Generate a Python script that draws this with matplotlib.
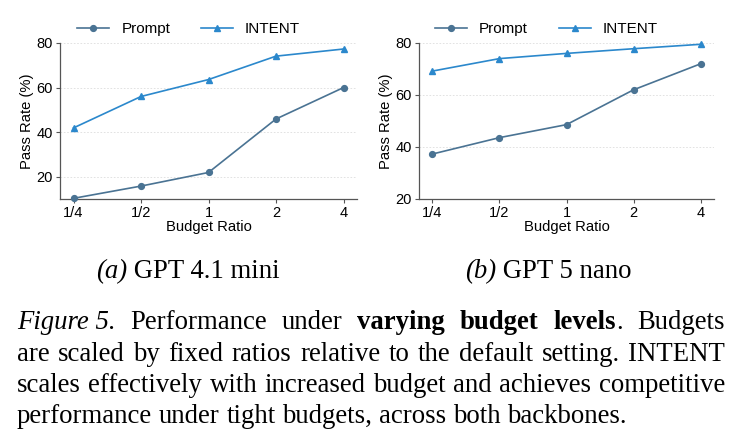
import matplotlib
matplotlib.use("Agg")
import matplotlib.pyplot as plt

ratios = ["1/4", "1/2", "1", "2", "4"]
prompt_a = [10.3, 15.8, 21.9, 45.9, 60.0]
intent_a = [41.9, 56.0, 63.6, 74.1, 77.3]
prompt_b = [37.3, 43.6, 48.6, 62.0, 72.0]
intent_b = [69.2, 74.0, 76.0, 77.8, 79.5]
yticks_a = [20, 40, 60, 80]
yticks_b = [20, 40, 60, 80]
subcaps = [("(a)", " GPT 4.1 mini"), ("(b)", " GPT 5 nano")]

C_PROMPT = "#4a7393"
C_INTENT = "#2b88cc"
SANS = ["Liberation Sans", "DejaVu Sans"]
SERIF = ["Liberation Serif", "DejaVu Serif"]

W, H = 736, 441
fig = plt.figure(figsize=(W / 100, H / 100), dpi=100)

def px_axes(x0, x1, y0, y1):
    return fig.add_axes([x0 / W, 1 - y1 / H, (x1 - x0) / W, (y1 - y0) / H])

axA = px_axes(60, 357, 43, 199)
axB = px_axes(419, 714, 43, 199)

def draw(ax, p, i, ylim, yticks, legx):
    x = list(range(len(ratios)))
    ax.plot(x, p, color=C_PROMPT, marker="o", markersize=4.2, lw=1.2, label="Prompt", clip_on=False, zorder=3)
    ax.plot(x, i, color=C_INTENT, marker="^", markersize=4.2, lw=1.2, label="INTENT", clip_on=False, zorder=3)
    ax.set_xlim(-0.2, 4.2)
    ax.set_ylim(*ylim)
    ax.set_yticks(yticks)
    ax.set_xticks(x)
    ax.set_xticklabels(ratios)
    for s in ["top", "right"]:
        ax.spines[s].set_visible(False)
    for s in ["left", "bottom"]:
        ax.spines[s].set_color("#555555")
        ax.spines[s].set_linewidth(0.9)
    ax.tick_params(length=3, width=0.8, color="#555555", labelsize=10.5, pad=2)
    for lab in ax.get_xticklabels() + ax.get_yticklabels():
        lab.set_family(SANS)
    ax.grid(axis="y", color="#dddddd", ls=(0, (2, 2)), lw=0.6)
    ax.set_axisbelow(True)
    ax.set_xlabel("Budget Ratio", fontsize=10.6, family=SANS, labelpad=0)
    ax.set_ylabel("Pass Rate (%)", fontsize=10.6, family=SANS, labelpad=2)
    ax.legend(loc="center", bbox_to_anchor=(legx, 1.09), ncol=2, frameon=False,
              prop={"family": SANS, "size": 11}, handlelength=2.1, columnspacing=2.0,
              handletextpad=0.8, borderaxespad=0)

draw(axA, prompt_a, intent_a, (10, 80), yticks_a, 0.433)
draw(axB, prompt_b, intent_b, (20, 80), yticks_b, 0.432)

SUB_FS = 19.3
CAP_FS = 19.3
r = fig.canvas.get_renderer()
# sub captions
for (it, rest), cx in zip(subcaps, [188, 548]):
    t1 = fig.text(0, 0, it, fontsize=SUB_FS, family=SERIF, style="italic", va="baseline")
    t2 = fig.text(0, 0, rest, fontsize=SUB_FS, family=SERIF, va="baseline")
    fig.canvas.draw()
    w1 = t1.get_window_extent(r).width
    w2 = t2.get_window_extent(r).width
    x0 = cx - (w1 + w2) / 2
    y = 1 - 278 / H
    t1.set_position((x0 / W, y))
    t2.set_position(((x0 + w1) / W, y))

# caption, justified
lines = [
    [("Figure 5.", "italic"), ("Performance", "n"), ("under", "n"),
     ("varying", "bold"), ("budget", "bold"), ("levels", "bold+."), ("Budgets", "n")],
    [(w, "n") for w in "are scaled by fixed ratios relative to the default setting. INTENT".split()],
    [(w, "n") for w in "scales effectively with increased budget and achieves competitive".split()],
    [(w, "n") for w in "performance under tight budgets, across both backbones.".split()],
]
ys = [329, 361, 392, 423]
XL, XR = 17, 725
for li, (words, yc) in enumerate(zip(lines, ys)):
    arts = []
    for w, st in words:
        if st == "bold+.":
            a = fig.text(0, 0, w, fontsize=CAP_FS, family=SERIF, weight="bold", va="baseline")
            b = fig.text(0, 0, ".", fontsize=CAP_FS, family=SERIF, va="baseline")
            arts.append([a, b])
        else:
            kw = {}
            if st == "italic":
                kw["style"] = "italic"
            if st == "bold":
                kw["weight"] = "bold"
            a = fig.text(0, 0, w, fontsize=CAP_FS, family=SERIF, va="baseline", **kw)
            arts.append([a])
    fig.canvas.draw()
    widths = [sum(t.get_window_extent(r).width for t in g) for g in arts]
    total = sum(widths)
    n = len(arts)
    if li < len(lines) - 1:
        gap = (XR - XL - total) / (n - 1)
    else:
        gap = 0.25 * CAP_FS * 100 / 72
    x = XL
    for g, wd in zip(arts, widths):
        xx = x
        for t in g:
            t.set_position((xx / W, 1 - yc / H))
            xx += t.get_window_extent(r).width
        x += wd + gap

fig.savefig("out.png", dpi=100)
